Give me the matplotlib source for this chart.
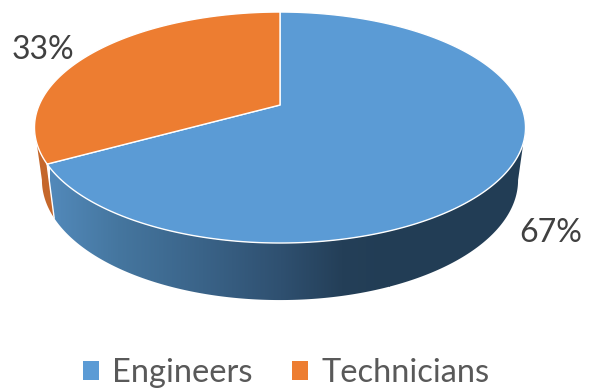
import numpy as np
import matplotlib
matplotlib.use("Agg")
import matplotlib.pyplot as plt
from matplotlib.patches import Patch, Polygon
from matplotlib.colors import LinearSegmentedColormap

categories = ["Engineers", "Technicians"]
values = [67, 33]
value_labels = ["67%", "33%"]
colors = ["#5B9BD5", "#ED7D31"]

plt.rcParams["font.family"] = ["Lato", "DejaVu Sans"]
fig = plt.figure(figsize=(6, 3.92), dpi=100)
ax = fig.add_axes([0, 0, 1, 1])
ax.set_xlim(0, 600)
ax.set_ylim(392, 0)
ax.axis("off")

CX = 280.0
K = 0.195


def disc(theta, cy, A, a):
    """Project a unit-circle rim (radians, math convention) to the screen."""
    u, v = np.cos(theta), np.sin(theta)
    w = 1 + K * v
    return np.column_stack([CX + A * u / w, cy - a * v / w])


def top(t):
    return disc(t, 105.0, 240.8, 111.1)


def low(t):
    return disc(t, 156.7, 233.5, 115.4)


# slice angles, clockwise from 12 o'clock
frac = np.array(values, dtype=float) / sum(values)
start = np.pi / 2
split = start - 2 * np.pi * frac[0]          # end of Engineers slice
t_right = np.arcsin(-K)                      # right silhouette
t_left = np.pi - t_right                     # left silhouette

# side of blue slice with horizontal gradient
t_side = np.linspace(split, t_right, 300)
side_pts = np.vstack([top(t_side), low(t_side)[::-1]])
side = Polygon(side_pts, closed=True, fc="none", ec="none")
ax.add_patch(side)
cmap = LinearSegmentedColormap.from_list(
    "side",
    [(0.0, "#5289BA"), (0.2, "#45769F"), (0.45, "#3A6388"), (0.68, "#2F5070"),
     (0.86, "#243F58"), (1.0, "#223D55")],
)
grad = np.linspace(0, 1, 512).reshape(1, -1)
im = ax.imshow(grad, cmap=cmap, extent=(50, 390, 392, 0), aspect="auto", zorder=1)
rest = ax.fill_between([389, 530], 0, 392, color="#223D55", lw=0, zorder=1)
im.set_clip_path(side)
rest.set_clip_path(side)
ax.set_xlim(0, 600)
ax.set_ylim(392, 0)

# side of orange slice
t_o = np.linspace(t_left, split + (2 * np.pi if split < 0 else 0), 80)
ax.add_patch(Polygon(np.vstack([top(t_o), low(t_o)[::-1]]), closed=True,
                     fc="#C5672B", ec="none", zorder=1))
edge = np.vstack([top(np.array([split])), low(np.array([split]))])
ax.plot(edge[:, 0], edge[:, 1], color="white", lw=1.0, zorder=2)

# top face
apex = np.array([[CX, 105.0]])
a0 = start
for name, f, c in zip(categories, frac, colors):
    a1 = a0 - 2 * np.pi * f
    t = np.linspace(a0, a1, 400)
    ax.add_patch(Polygon(np.vstack([apex, top(t)]), closed=True, fc=c,
                         ec="white", lw=1.0, joinstyle="round", zorder=3))
    a0 = a1

# data labels
label_pos = [(551, 233), (43, 50)]
for txt, (x, y) in zip(value_labels, label_pos):
    ax.text(x, y, txt, ha="center", va="center", fontsize=23, color="#404040")

# legend
handles = [Patch(fc=c, ec="none") for c in colors]
ax.legend(handles, categories, loc="center", bbox_to_anchor=(286 / 600, 1 - 373 / 392),
          ncol=2, frameon=False, fontsize=23.5, labelcolor="#595959",
          handlelength=0.5, handleheight=0.5, handletextpad=0.4,
          columnspacing=1.2, borderpad=0, borderaxespad=0)

fig.savefig("out.png", dpi=100, facecolor="white")
